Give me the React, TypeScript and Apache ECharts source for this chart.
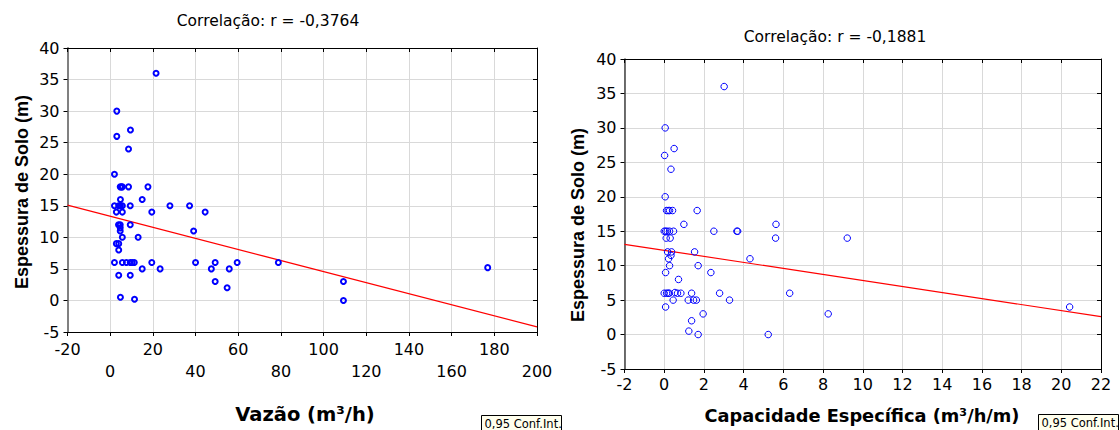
import React, { useEffect, useRef } from "react";
import * as echarts from "echarts";

// Left chart: Vazão (m³/h) vs Espessura de Solo (m)
const vazao = [
  21.5, 3.1, 9.5, 3.1, 8.6, 2.0, 4.7, 5.3, 5.7, 8.6, 17.7, 4.8, 15, 2.0, 4.0, 4.8, 5.7, 9.4, 28, 37.2,
  2.9, 5.7, 19.5, 44.5, 3.9, 4.7, 9.4, 4.7, 4.7, 5.7, 13.1, 39.1, 2.9, 4.0, 4.0, 2.0, 5.7, 7.6, 9.4, 10.3,
  11.3, 19.5, 40, 49.2, 59.5, 78.8, 15, 23.4, 47.4, 55.8, 4.0, 9.4, 49.2, 54.8, 4.8, 11.4, 109.3, 109.3, 176.9,
];
const espessuraVazao = [
  36, 30, 27, 26, 24, 20, 18, 18, 18, 18, 18, 16, 16, 15, 15, 15, 15, 15, 15, 15,
  14, 14, 14, 14, 12, 12, 12, 11.5, 11, 10, 10, 11, 9, 9, 8, 6, 6, 6, 6, 6,
  6, 6, 6, 6, 6, 6, 5, 5, 5, 5, 4, 4, 3, 2, 0.5, 0.2, 3, 0, 5.2,
];
// regression line end points
const fitVazaoX = [-20, 200];
const fitVazaoY = [15.1, -4.2];

// Right chart: Capacidade Específica (m³/h/m) vs Espessura de Solo (m)
const capacidade = [
  3.02, 0.05, 0.5, 0.02, 0.34, 0.05, 0.12, 0.2, 0.27, 0.42, 1.66, 0.99, 5.63, 0.0, 0.07, 0.15, 0.27, 0.47, 2.5, 3.66,
  3.7, 0.1, 0.3, 5.61, 9.22, 0.17, 0.37, 1.53, 0.34, 0.22, 4.32, 0.27, 1.71, 0.07, 2.35, 0.72, 0.0, 0.12, 0.2, 0.25,
  0.54, 0.67, 0.84, 1.38, 2.79, 6.32, 0.45, 1.21, 1.48, 1.62, 3.29, 0.07, 1.96, 8.26, 1.38, 1.24, 1.71, 5.24, 20.42,
];
const espessuraCap = [
  36, 30, 27, 26, 24, 20, 18, 18, 18, 18, 18, 16, 16, 15, 15, 15, 15, 15, 15, 15,
  15, 14, 14, 14, 14, 12, 12, 12, 11.5, 11, 11, 10, 10, 9, 9, 8, 6, 6, 6, 6,
  6.1, 6, 6, 6, 6, 6, 5, 5, 5, 5, 5, 4, 3, 3, 2, 0.5, 0, 0, 4,
];
const fitCapX = [-2, 22];
const fitCapY = [13.1, 2.6];

const titles = ["Correlação: r = -0,3764", "Correlação: r = -0,1881"];
const xNames = ["Vazão (m³/h)", "Capacidade Específica (m³/h/m)"];
const yName = "Espessura de Solo (m)";
const confLabel = "0,95 Conf.Int.";

const SANS = '"DejaVu Sans", sans-serif';
const ARIAL = '"Liberation Sans", Arial, sans-serif';

export default function App() {
  const ref = useRef<HTMLDivElement>(null);

  useEffect(() => {
    document.body.style.margin = "0";
    const chart = echarts.init(ref.current!, null, { renderer: "svg" });

    const gridLine = { show: true, lineStyle: { color: "#d9d9d9", width: 1 } };
    const tickLabel = { color: "#000", fontFamily: SANS, fontSize: 16 };

    const mainX = (grid: number, min: number, max: number, interval: number, label: any) => ({
      gridIndex: grid, type: "value", min, max, interval, position: "bottom",
      axisLine: { show: true, onZero: false, lineStyle: { color: "#000", width: 1 } },
      axisTick: { show: true, inside: false, length: 4, lineStyle: { color: "#000" } },
      axisLabel: { ...tickLabel, showMinLabel: true, showMaxLabel: true, ...label },
      splitLine: gridLine,
    });
    const sideX = (grid: number, min: number, max: number, interval: number) => ({
      gridIndex: grid, type: "value", min, max, interval, position: "top",
      axisLine: { show: true, onZero: false, lineStyle: { color: "#000", width: 1 } },
      axisTick: { show: true, inside: true, length: 4, lineStyle: { color: "#000" } },
      axisLabel: { show: false }, splitLine: { show: false },
    });
    const mainY = (grid: number, spine: any) => ({
      gridIndex: grid, type: "value", min: -5, max: 40, interval: 5, position: "left",
      axisLine: { show: true, onZero: false, lineStyle: spine },
      axisTick: { show: true, inside: false, length: 4, lineStyle: { color: "#000" } },
      axisLabel: { ...tickLabel, margin: 8, showMinLabel: true, showMaxLabel: true },
      splitLine: gridLine,
    });
    const sideY = (grid: number) => ({
      gridIndex: grid, type: "value", min: -5, max: 40, interval: 5, position: "right",
      axisLine: { show: true, onZero: false, lineStyle: { color: "#000", width: 1 } },
      axisTick: { show: true, inside: true, length: 4, lineStyle: { color: "#000" } },
      axisLabel: { show: false }, splitLine: { show: false },
    });

    const text = (x: number, y: number, t: string, font: string, extra: any = {}) => ({
      type: "text", x, y, ...extra,
      style: { text: t, fill: "#000", font, align: "center", verticalAlign: "middle" },
    });
    const confBox = (x: number, y: number, w: number) => ({
      type: "group", x, y,
      children: [
        { type: "rect", shape: { x: 0, y: 0, width: w, height: 22 }, style: { fill: "#ffffee", stroke: "#000", lineWidth: 1 } },
        { type: "text", x: 3, y: 2, style: { text: confLabel, fill: "#000", font: `11.5px ${SANS}`, align: "left", verticalAlign: "top" } },
      ],
    });

    chart.setOption({
      animation: false,
      backgroundColor: "#ffffff",
      grid: [
        { left: 67.5, top: 48, width: 469.5, height: 284 },
        { left: 624.5, top: 59, width: 476.5, height: 310 },
      ],
      xAxis: [
        mainX(0, -20, 200, 20, {
          margin: 6, lineHeight: 22,
          formatter: (v: number) => ((Math.round((v + 20) / 20) % 2 === 0) ? String(v) : "\n" + v),
        }),
        sideX(0, -20, 200, 20),
        mainX(1, -2, 22, 2, { margin: 7, lineHeight: 16 }),
        sideX(1, -2, 22, 2),
      ],
      yAxis: [
        mainY(0, { color: "#808080", width: 2 }),
        sideY(0),
        mainY(1, { color: "#404040", width: 1.5 }),
        sideY(1),
      ],
      series: [
        {
          type: "line", xAxisIndex: 0, yAxisIndex: 0, z: 2,
          data: fitVazaoX.map((x, i) => [x, fitVazaoY[i]]),
          symbol: "none", lineStyle: { color: "#ff0000", width: 1.2 }, silent: true,
        },
        {
          type: "scatter", xAxisIndex: 0, yAxisIndex: 0, z: 3,
          data: vazao.map((x, i) => [x, espessuraVazao[i]]),
          symbol: "circle", symbolSize: 5,
          itemStyle: { color: "rgba(255,255,255,0)", borderColor: "#0000ff", borderWidth: 2, opacity: 1 },
        },
        {
          type: "line", xAxisIndex: 2, yAxisIndex: 2, z: 2,
          data: fitCapX.map((x, i) => [x, fitCapY[i]]),
          symbol: "none", lineStyle: { color: "#ff0000", width: 1.2 }, silent: true,
        },
        {
          type: "scatter", xAxisIndex: 2, yAxisIndex: 2, z: 3,
          data: capacidade.map((x, i) => [x, espessuraCap[i]]),
          symbol: "circle", symbolSize: 6.5,
          itemStyle: { color: "rgba(255,255,255,0)", borderColor: "#0000ff", borderWidth: 1, opacity: 1 },
        },
      ],
      graphic: [
        text(268, 21, titles[0], `15.5px ${SANS}`),
        text(835, 37, titles[1], `15.5px ${SANS}`),
        text(305, 414, xNames[0], `bold 19.5px ${SANS}`),
        text(862, 415, xNames[1], `bold 17.8px ${SANS}`),
        text(22, 192, yName, `bold 18px ${ARIAL}`, { rotation: Math.PI / 2 }),
        text(578, 225, yName, `bold 18px ${ARIAL}`, { rotation: Math.PI / 2 }),
        confBox(481.5, 415.5, 80),
        confBox(1038.5, 414.5, 80),
      ],
    });

    return () => chart.dispose();
  }, []);

  return <div ref={ref} style={{ position: "absolute", left: 0, top: 0, width: 1120, height: 430 }} />;
}
